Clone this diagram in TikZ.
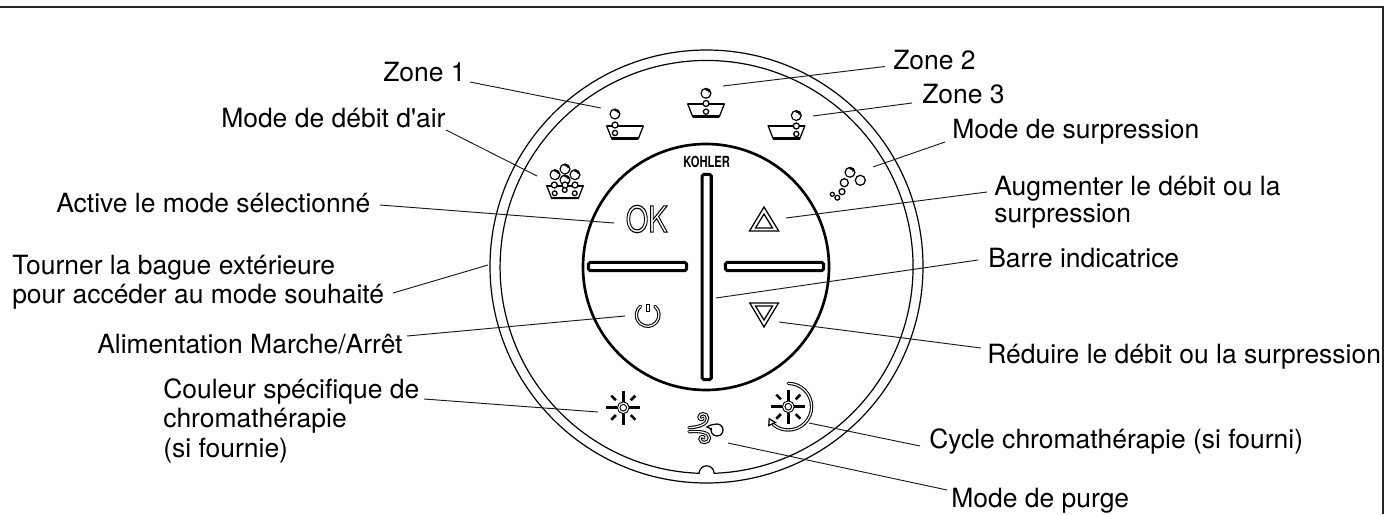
\documentclass[tikz,border=0pt]{standalone}
\usepackage{fontspec}
\setmainfont{TeX Gyre Heros}
\newfontfamily\herosplain{TeX Gyre Heros}
\begin{document}
\begin{tikzpicture}[x=0.75pt,y=-0.75pt,
  lead/.style={line width=0.7pt,black!90},
  ring/.style={line width=0.9pt},
  innercirc/.style={line width=2pt},
  barshape/.style={draw,line width=2.3pt,rounded corners=1.2pt,fill=white,inner sep=0pt},
  lab/.style={font=\fontsize{19.85}{21.75}\selectfont,inner sep=0pt,align=left,anchor=base west,text=black},
  ic/.style={line width=0.95pt},
  dbl/.style={line width=0.8pt,double=white,double distance=0.9pt,line cap=round},
  bub/.style={line width=0.95pt,fill=white},
  bubble/.pic={
    \draw[bub] (0,0) circle (4.9);
    \fill[black] (0,0) -- (-15:4.6) arc (-15:-100:4.6) -- cycle;
    \fill[white] (-0.5,0.5) circle (3.5);
  },
  tubicon/.pic={
    \draw[ic,fill=white] (-18.3,0) -- (18.3,0) -- (13.3,12.7) -- (-13.3,12.7) -- cycle;
    \draw[line width=1.7pt] (-13.3,12.4) -- (13.3,12.4);
    \draw[line width=1.3pt] (-18.3,0) -- (18.3,0);
  },
  sunrays/.pic={
    \draw[dbl] (0,0) circle (4.6);
    \foreach \a in {0,90,180,270} \draw[line width=1.9pt] (\a:6) -- (\a:17);
    \foreach \a in {45,135,225,315} \draw[line width=1.9pt] (\a:10.5) -- (\a:17);
  }]
\useasboundingbox (0,0) rectangle (1384,514);
\draw[line width=0.9pt,black!85] (0,7) -- (1383,7) -- (1383,514);
% rings
\draw[ring] (706.5,266.5) circle (216.5);
\draw[ring] (699,473.3) arc (92.1:447.9:206.5) arc (0:-180:7.5) -- cycle;
\draw[innercirc] (706,267) circle (123);
% bars
\node[barshape,minimum width=6.8pt,minimum height=153.9pt] (vbar) at (706.7,277) {};
\node[barshape,minimum width=73.6pt,minimum height=6.1pt] (lbar) at (637.5,266.5) {};
\node[barshape,minimum width=73.6pt,minimum height=6.1pt] (rbar) at (774.5,266.5) {};
\node[font=\bfseries\fontsize{11.5}{12}\selectfont,xscale=0.73,transform shape,inner sep=0pt] (kohler) at (706.7,161.5) {KOHLER};
% OK
\node[font=\fontsize{27}{27}\selectfont,xscale=0.8,transform shape,inner sep=0pt] (okicon) at (646.7,219) {\special{pdf:code q 1 Tr 0.85 w}OK\special{pdf:code Q}};
% triangles
\draw[ic] (764,207) -- (778.7,231) -- (749.5,231) -- cycle;
\draw[ic] (764,214) -- (772.5,228) -- (755.5,228) -- cycle;
\draw[ic] (764,327) -- (778.5,303) -- (749.8,303) -- cycle;
\draw[ic] (764,320) -- (772.5,306) -- (755.5,306) -- cycle;
% power
\draw[dbl] (647.7,315) ++(-50:11.3) arc (-50:230:11.3);
\draw[ic] (646.2,304.5) rectangle (649.2,311.5);
% tubs
\pic at (706,104) {tubicon};
\pic at (625,126) {tubicon};
\pic at (786.5,126) {tubicon};
\pic at (565,185.7) {tubicon};
\foreach \x/\y in {706/93.3,615/114,796.3/115.5,565/169,555/174.7,575/174.7,565/180} \pic at (\x,\y) {bubble};
\foreach \x/\y/\r in {706/103.5/3,706/111.7/2.6,615/125/3,615/133/2.6,796.3/126/3,796.3/134/2.6,
  554.3/185/3,565/185/3,575/185/3,554.7/193.3/2.4,564.7/190/2.4,574.7/193.3/2.4} \draw[bub] (\x,\y) circle (\r);
% surpression bubbles
\pic at (850,172.3) {bubble};
\foreach \x/\y/\r in {860.3/180.3/5,844.3/182.7/4,842/191.7/3,837.3/197.7/2.4,832.3/194.3/2} \draw[bub] (\x,\y) circle (\r);
% suns
\pic at (623.3,407.7) {sunrays};
\pic at (788.3,406.7) {sunrays};
\draw[dbl] (788.3,383.4) arc (-90:130:23.3);
\draw[line width=0.95pt,fill=white] (769.2,418.8) -- (768.8,425.5) -- (775.3,422.5) -- cycle;
% purge
\draw[dbl] (689,427.7) .. controls (700,427) and (707.5,424) .. (707.5,418) .. controls (707.5,412.5) and (699,412.5) .. (699,417) .. controls (699,420) and (703,420) .. (703,418);
\draw[dbl] (689,431.7) .. controls (700,431) and (709.5,432) .. (709.5,438) .. controls (709.5,443.5) and (700,444) .. (700,439) .. controls (700,436) and (704,436) .. (704,438);
\draw[ic,fill=white] (707,427) .. controls (711,424) and (715,424.5) .. (717,424) arc (-90:200:6) .. controls (711,431) and (711,428) .. (707,427) -- cycle;
% labels
\node[lab] (zone1) at (383,81) {Zone 1};
\node[lab] (air) at (221,127) {{\herosplain Mode de débit d'air}};
\node[lab] (active) at (56,212) {Active le mode sélectionné};
\node[lab,font=\fontsize{19.85}{21.75}\selectfont] (tourner) at (12,303) {Tourner la bague extérieure\\pour accéder au mode souhaité};
\node[lab] (alim) at (97,353) {Alimentation Marche/Arrêt};
\node[lab,font=\fontsize{19.85}{22.1}\selectfont] (couleur) at (163,457) {Couleur spécifique de\\chromathérapie\\(si fournie)};
\node[lab] (zone2) at (893,69) {Zone 2};
\node[lab] (zone3) at (922,103) {Zone 3};
\node[lab] (surp) at (952,138) {Mode de surpression};
\node[lab,font=\fontsize{19.85}{20.2}\selectfont] (augm) at (994,222) {Augmenter le débit ou la\\surpression};
\node[lab] (barre) at (988,267) {Barre indicatrice};
\node[lab] (reduire) at (987,363) {Réduire le débit ou la surpression};
\node[lab] (cycle) at (929,448) {Cycle chromathérapie (si fourni)};
\node[lab] (purge) at (951,507) {Mode de purge};
% leader ends
\foreach \n/\ax/\ay/\bx/\by in {
 zone1/470/82/600.7/108, air/446/130/537/176, active/380/205/614/223,
 tourner/393/293/488/265, alim/407/336/625/316, couleur/424/399/598/412,
 zone2/885/66.5/723/86, zone3/912/103/813/116, surp/945/142/873/167,
 augm/987/192/786/218, barre/978/260/716/298, reduire/981/348/779/322,
 cycle/920/446/809/423, purge/947/490/728/443}{
  \coordinate (\n-a) at (\ax,\ay);
  \coordinate (\n-b) at (\bx,\by);
  \draw[lead] (\n-a) -- (\n-b);
}
\end{tikzpicture}
\end{document}
